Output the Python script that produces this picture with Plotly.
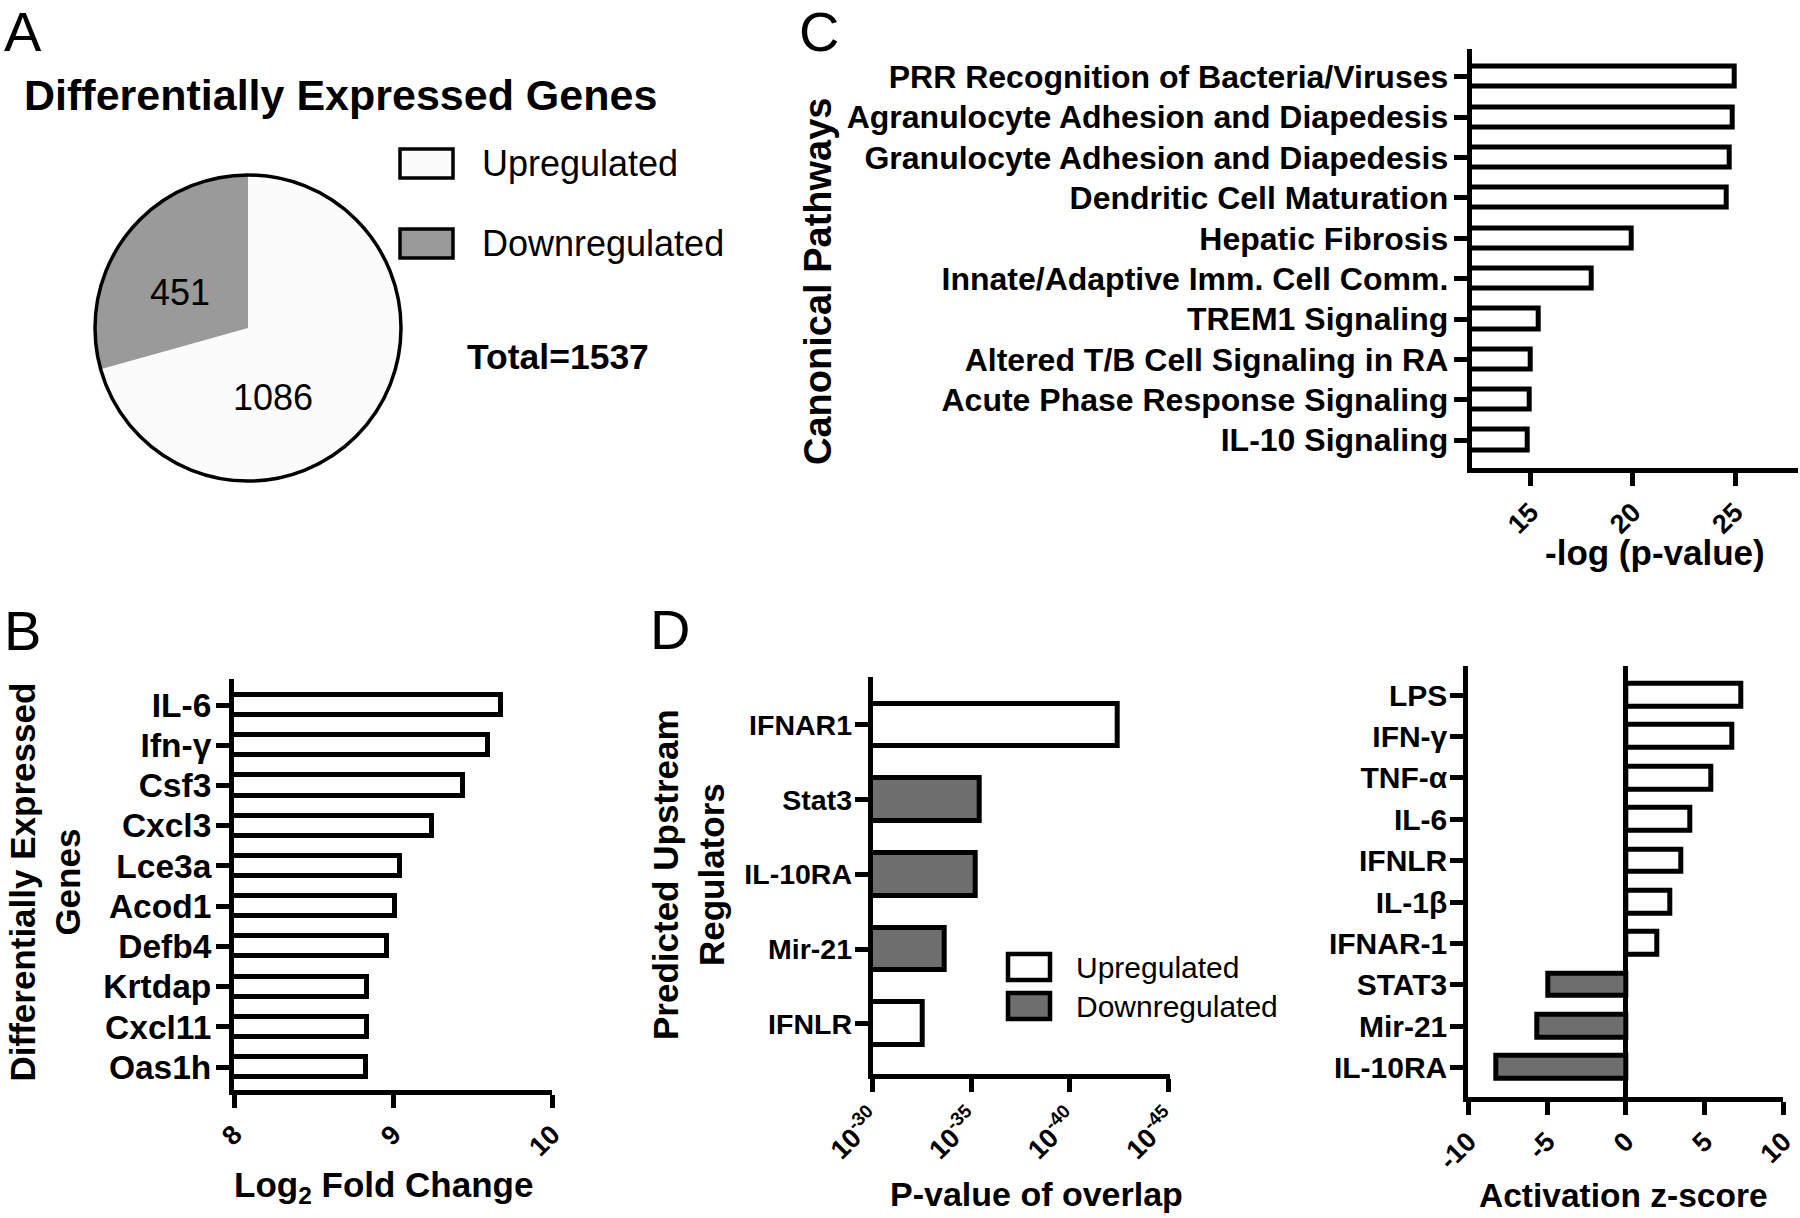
import plotly.graph_objects as go

W, H = 1800, 1218
FONT = "Liberation Sans, Arial, Helvetica, sans-serif"

# ---------------- data ----------------
# Panel A
pie_labels = ["Upregulated", "Downregulated"]
pie_values = [1086, 451]
pie_colors = ["#fbfbfb", "#9a9a9a"]

# Panel B
genes = ["IL-6", "Ifn-γ", "Csf3", "Cxcl3", "Lce3a", "Acod1", "Defb4", "Krtdap", "Cxcl11", "Oas1h"]
gene_log2fc = [9.68, 9.60, 9.44, 9.245, 9.045, 9.015, 8.96, 8.835, 8.835, 8.83]
b_ticks = [8, 9, 10]

# Panel C
pathways = ["PRR Recognition of Bacteria/Viruses", "Agranulocyte Adhesion and Diapedesis",
            "Granulocyte Adhesion and Diapedesis", "Dendritic Cell Maturation", "Hepatic Fibrosis",
            "Innate/Adaptive Imm. Cell Comm.", "TREM1 Signaling", "Altered T/B Cell Signaling in RA",
            "Acute Phase Response Signaling", "IL-10 Signaling"]
pathway_logp = [25.0, 24.9, 24.75, 24.6, 19.95, 18.0, 15.4, 15.0, 14.96, 14.88]
c_ticks = [15, 20, 25]

# Panel D (left)
regulators = ["IFNAR1", "Stat3", "IL-10RA", "Mir-21", "IFNLR"]
regulator_neglogp = [42.4, 35.45, 35.24, 33.67, 32.54]
regulator_dir = ["Upregulated", "Downregulated", "Downregulated", "Downregulated", "Upregulated"]
d_ticks = [30, 35, 40, 45]
d_ticktext = ["10<sup>-30</sup>", "10<sup>-35</sup>", "10<sup>-40</sup>", "10<sup>-45</sup>"]

# Panel D (right)
act_regs = ["LPS", "IFN-γ", "TNF-α", "IL-6", "IFNLR", "IL-1β", "IFNAR-1", "STAT3", "Mir-21", "IL-10RA"]
act_z = [7.34, 6.74, 5.42, 4.1, 3.55, 2.83, 2.02, -4.89, -5.6, -8.2]
z_ticks = [-10, -5, 0, 5, 10]
z_ticktext = ["-10", "-5", "0", "5", "10"]

dir_colors = {"Upregulated": "#ffffff", "Downregulated": "#6e6e6e"}


def fx(px):
    return px / W


def fy(py):
    return 1 - py / H


def font(size, bold=False):
    d = dict(family=FONT, size=size, color="black")
    if bold:
        d["weight"] = "bold"
    return d


def xaxis(x0, x1, rng, tickvals, ticktext, anchor, tsize=27, zeroline=False):
    return dict(domain=[fx(x0), fx(x1)], range=rng, anchor=anchor,
                showline=True, linewidth=5, linecolor="black",
                ticks="outside", ticklen=13, tickwidth=5, tickcolor="black",
                tickmode="array", tickvals=tickvals, ticktext=ticktext, tickangle=-45,
                tickfont=font(tsize, True), showgrid=False,
                zeroline=zeroline, zerolinewidth=5, zerolinecolor="black",
                automargin=False, fixedrange=True)


def yaxis(ytop, ybot, labels, pad_top, pad_bot, anchor, size, standoff=-2):
    n = len(labels)
    return dict(domain=[fy(ybot), fy(ytop)], type="category", categoryorder="array",
                categoryarray=list(reversed(labels)), range=[-pad_bot, n - 1 + pad_top],
                anchor=anchor, showline=True, linewidth=5, linecolor="black",
                ticks="outside", ticklen=13, tickwidth=5, tickcolor="black",
                ticklabelstandoff=standoff,
                tickfont=font(size, True), showgrid=False, zeroline=False,
                automargin=False, fixedrange=True)


fig = go.Figure()

# ---- A: pie ----
PIE = (95, 401, 175, 481)
fig.add_trace(go.Pie(values=pie_values, labels=pie_labels, sort=False, direction="clockwise",
                     rotation=0, marker=dict(colors=pie_colors, line=dict(width=0)),
                     textinfo="none", hoverinfo="label+value", showlegend=False,
                     domain=dict(x=[fx(PIE[0]), fx(PIE[1])], y=[fy(PIE[3]), fy(PIE[2])])))

# ---- B ----
fig.add_trace(go.Bar(x=gene_log2fc, y=genes, orientation="h", width=0.5,
                     marker=dict(color="white", line=dict(color="black", width=5)),
                     xaxis="x", yaxis="y", showlegend=False))
# ---- C ----
fig.add_trace(go.Bar(x=pathway_logp, y=pathways, orientation="h", width=0.5,
                     marker=dict(color="white", line=dict(color="black", width=5)),
                     xaxis="x2", yaxis="y2", showlegend=False))
# ---- D left ----
fig.add_trace(go.Bar(x=regulator_neglogp, y=regulators, orientation="h", width=0.57,
                     marker=dict(color=[dir_colors[d] for d in regulator_dir],
                                 line=dict(color="black", width=5)),
                     xaxis="x3", yaxis="y3", showlegend=False))
# ---- D right ----
fig.add_trace(go.Bar(x=act_z, y=act_regs, orientation="h", width=0.55,
                     marker=dict(color=[dir_colors["Upregulated"] if v > 0 else dir_colors["Downregulated"]
                                        for v in act_z],
                                 line=dict(color="black", width=5)),
                     xaxis="x4", yaxis="y4", showlegend=False))

layout = dict(
    width=W, height=H, margin=dict(l=0, r=0, t=0, b=0),
    paper_bgcolor="white", plot_bgcolor="white", template="none",
    font=font(26), bargap=0,
    xaxis=xaxis(234, 552, [8, 10], b_ticks, [str(t) for t in b_ticks], "y"),
    yaxis=yaxis(679, 1090, genes, 0.647, 0.57, "x", 33.5, standoff=-2),
    xaxis2=xaxis(1471.7, 1798, [12.12, 28.08], c_ticks, [str(t) for t in c_ticks], "y2"),
    yaxis2=yaxis(48.6, 467.6, pathways, 0.70, 0.68, "x2", 32, standoff=-1),
    xaxis3=xaxis(872.7, 1169.5, [30, 45.05], d_ticks, d_ticktext, "y3"),
    yaxis3=yaxis(677, 1073.8, regulators, 0.64, 0.67, "x3", 28.5, standoff=-3),
    xaxis4=xaxis(1468.3, 1783.3, [-10, 10], z_ticks, z_ticktext, "y4", zeroline=True),
    yaxis4=yaxis(665.8, 1097, act_regs, 0.71, 0.71, "x4", 30, standoff=-3),
)

shapes = []
annotations = []


def ann(text, x, y, size, bold=False, xanchor="center", yanchor="middle", angle=0):
    annotations.append(dict(text=text, x=fx(x), y=fy(y), xref="paper", yref="paper",
                            xanchor=xanchor, yanchor=yanchor, showarrow=False,
                            textangle=angle, font=font(size, bold)))


# pie outline
shapes.append(dict(type="circle", xref="paper", yref="paper",
                   x0=fx(PIE[0]), x1=fx(PIE[1]), y0=fy(PIE[3]), y1=fy(PIE[2]),
                   line=dict(color="black", width=3.5)))
# pie value labels
ann(str(pie_values[1]), 180, 292, 36)
ann(str(pie_values[0]), 273, 398, 36)

# panel letters
ann("A", 23, 31, 56)
ann("B", 22, 630, 56)
ann("C", 819, 32, 56)
ann("D", 670, 629, 56)

# A title, legend, total
ann("Differentially Expressed Genes", 22, 95, 43, True, xanchor="left")
for i, (lab, col) in enumerate(zip(pie_labels, pie_colors)):
    yc = 163.5 + 80 * i
    shapes.append(dict(type="rect", xref="paper", yref="paper", x0=fx(400), x1=fx(453),
                       y0=fy(yc + 14.5), y1=fy(yc - 14.5), fillcolor=col,
                       line=dict(color="black", width=3.5)))
    ann(lab, 480, yc, 36, xanchor="left")
ann(f"Total={sum(pie_values)}", 465, 357, 35.5, True, xanchor="left")

# B titles
ann("Differentially Expressed<br>Genes", 44.5, 882, 35, True, angle=-90)
ann("Log<sub>2</sub> Fold Change", 383, 1187, 35, True)
# C titles
ann("Canonical Pathways", 818, 282, 38, True, angle=-90)
ann("-log (p-value)", 1655, 552, 35, True)
# D titles
ann("Predicted Upstream<br>Regulators", 688, 875, 35, True, angle=-90)
ann("P-value of overlap", 1036.5, 1194, 34, True)
ann("Activation z-score", 1623, 1195, 33.5, True)

# D legend
for i, lab in enumerate(["Upregulated", "Downregulated"]):
    yc = 967 + 39 * i
    shapes.append(dict(type="rect", xref="paper", yref="paper", x0=fx(1008), x1=fx(1050),
                       y0=fy(yc + 13), y1=fy(yc - 13), fillcolor=dir_colors[lab],
                       line=dict(color="black", width=4.5)))
    ann(lab, 1073.5, yc, 30, xanchor="left")

layout["shapes"] = shapes
layout["annotations"] = annotations
fig.update_layout(**layout)

fig.write_html("out.html", config={"displayModeBar": False},
               post_script="document.body.style.margin='0px';")
